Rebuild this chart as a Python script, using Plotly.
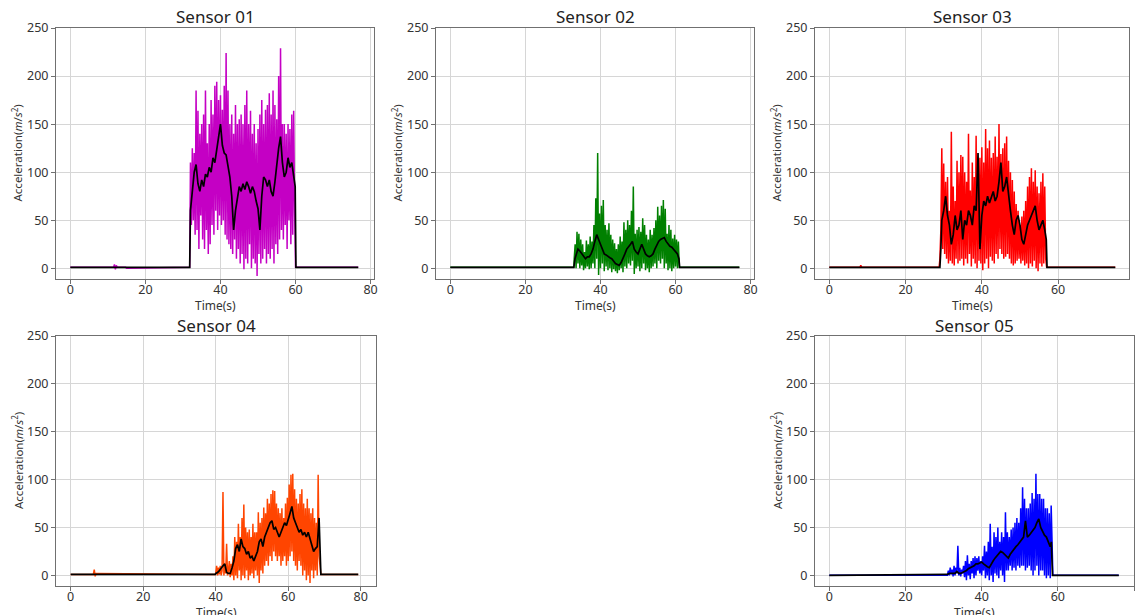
import plotly.graph_objects as go

# ---------------- data ----------------
STEP_RAW = 0.25   # sampling step of the raw signal lists (s)
STEP_AVG = 0.5    # sampling step of the moving-average lists (s)

# Sensor 01
s1_pre_t = [0, 11.5, 11.75, 12.0, 12.25, 12.5, 14.75, 15.0, 31.8]
s1_pre_v = [1, 1, 4, -1, 3, 1, 1, 0, 1]
s1_t0 = 32.0
s1_raw = [110, 45, 125, 50, 120, 35, 185, 40, 164, 20, 140, 55, 150, 30, 160, 20,
          185, 40, 130, 15, 150, 25, 175, 45, 160, 35, 190, 60, 194, 40, 175, 55,
          180, 45, 165, 50, 190, 35, 224, 30, 185, 25, 150, 20, 160, 15, 140, 30,
          170, 10, 150, 20, 155, 5, 160, 15, 150, -1, 170, 10, 185, 5, 150, 25,
          164, 0, 140, 10, 150, 5, 130, -8, 145, 15, 160, 5, 175, 10, 150, 20,
          165, 5, 170, 15, 182, 10, 160, 20, 185, 5, 170, 25, 155, 15, 200, 30,
          229, 40, 150, 30, 150, 45, 140, 20, 150, 50, 145, 25, 160, 35, 164, 60]
s1_post_t = [60.0, 76.7]
s1_post_v = [1, 1]
s1_avg_t0 = 32.0
s1_avg = [60, 85, 100, 108, 88, 80, 92, 85, 98, 95, 105, 100, 115, 110, 125, 140,
          150, 128, 120, 118, 108, 95, 75, 40, 60, 75, 85, 80, 88, 82, 90, 85,
          78, 85, 80, 70, 62, 40, 75, 95, 92, 85, 92, 80, 75, 90, 110, 125,
          137, 110, 95, 100, 115, 105, 110, 95]
s1_avg_pre_t, s1_avg_pre_v = [0, 31.8], [1, 1]
s1_avg_post_t, s1_avg_post_v = [59.9, 60.1, 76.7], [85, 1, 1]

# Sensor 02
s2_pre_t = [0, 32.9]
s2_pre_v = [1, 1]
s2_t0 = 33.0
s2_raw = [10, 25, 0, 38, 5, 36, 0, 30, 3, 25, -2, 17, 0, 29, 2, 25,
          -1, 33, 0, 28, 5, 45, 0, 73, 10, 120, -7, 57, 0, 65, 5, 71,
          -3, 45, 2, 40, -2, 47, 0, 35, -4, 30, -1, 26, -3, 20, -5, 25,
          -2, 33, 0, 28, -4, 48, 2, 40, 0, 50, 5, 45, 3, 60, 8, 85,
          -6, 36, 0, 40, 2, 43, -3, 38, 0, 52, 5, 45, -2, 35, 0, 30,
          -4, 40, 0, 35, 2, 42, 5, 50, 0, 64, 8, 55, 5, 65, 10, 71,
          0, 62, 5, 36, -2, 45, 0, 40, -3, 31, 0, 35, 2, 30, 0, 28]
s2_post_t = [61.0, 77.0]
s2_post_v = [1, 1]
s2_avg_t0 = 33.5
s2_avg = [15, 20, 18, 15, 12, 10, 12, 12, 15, 20, 28, 35, 30, 25, 20, 15,
          14, 12, 11, 10, 7, 5, 4, 3, 6, 10, 15, 20, 22, 25, 28, 20,
          17, 15, 20, 25, 20, 15, 13, 12, 13, 15, 20, 25, 28, 30, 31, 32,
          28, 25, 23, 22, 20, 18, 15]
s2_avg_pre_t, s2_avg_pre_v = [0, 32.9, 33.2], [1, 1, 10]
s2_avg_post_t, s2_avg_post_v = [60.9, 61.1, 77.0], [10, 1, 1]

# Sensor 03
s3_pre_t = [0, 8.0, 8.25, 8.5, 28.8]
s3_pre_v = [1, 1, 3, 1, 1]
s3_t0 = 29.0
s3_raw = [10, 40, 125, 20, 109, 15, 90, 10, 95, 5, 60, 8, 142, 5, 85, 3,
          70, 10, 112, 5, 100, 8, 118, 10, 116, 3, 100, 10, 90, 5, 140, 15,
          81, 2, 110, 10, 95, 5, 138, 0, 106, 8, 115, 5, 126, -2, 110, 5,
          145, 10, 125, 0, 133, 12, 115, 8, 120, 5, 137, 15, 116, 10, 150, 20,
          119, 15, 125, 10, 130, 12, 137, 15, 112, 10, 100, 5, 92, 3, 80, 5,
          67, 8, 60, 10, 45, 5, 54, 8, 60, 3, 70, 5, 85, 0, 95, 5,
          104, 2, 90, 8, 102, 0, 85, -3, 78, 5, 90, 2, 99, 5, 85, 10]
s3_post_t = [57.0, 75.0]
s3_post_v = [1, 1]
s3_avg_t0 = 29.5
s3_avg = [50, 60, 75, 55, 45, 25, 35, 55, 40, 45, 60, 30, 50, 45, 60, 55,
          45, 65, 60, 120, 20, 55, 70, 65, 75, 68, 75, 80, 70, 75, 90, 110,
          80, 85, 95, 75, 60, 45, 35, 50, 55, 45, 30, 25, 35, 45, 50, 55,
          62, 65, 50, 40, 45, 50, 40]
s3_avg_pre_t, s3_avg_pre_v = [0, 29.0, 29.25], [1, 1, 20]
s3_avg_post_t, s3_avg_post_v = [56.9, 57.1, 75.0], [30, 1, 1]

# Sensor 04
s4_pre_t = [0, 6.25, 6.5, 6.75, 7.0, 39.9]
s4_pre_v = [1, 1, 6, -1, 2, 1]
s4_t0 = 40.0
s4_raw = [2, 10, 0, 8, 1, 10, 0, 5, 87, 0, 12, 2, 33, 0, 5, 15,
          -2, 12, 0, 20, -5, 40, 0, 35, -3, 54, 5, 40, -5, 60, 0, 74,
          -3, 50, 5, 45, -5, 48, 0, 40, 2, 54, -3, 45, 5, 45, 0, 66,
          -8, 55, 5, 60, 2, 71, 10, 65, 15, 80, 10, 75, 20, 85, 15, 89,
          25, 88, 20, 75, 15, 70, 20, 65, 10, 70, 15, 60, 20, 75, 10, 81,
          15, 95, 20, 105, 25, 106, 15, 90, 10, 80, 5, 75, 15, 85, 10, 90,
          0, 75, 5, 70, -5, 80, 0, 70, -8, 65, 5, 70, -3, 60, 5, 55,
          0, 105, 20, 10]
s4_post_t = [69.0, 79.3]
s4_post_v = [1, 1]
s4_avg_t0 = 40.0
s4_avg = [2, 3, 5, 8, 10, 12, 3, 2, 2, 8, 15, 28, 32, 25, 38, 30,
          28, 22, 25, 18, 20, 15, 20, 25, 35, 38, 30, 40, 45, 50, 55, 57,
          48, 50, 45, 40, 45, 50, 55, 52, 60, 65, 72, 60, 55, 50, 45, 48,
          42, 45, 40, 45, 38, 30, 25, 28, 30, 60]
s4_avg_pre_t, s4_avg_pre_v = [0, 39.9], [1, 1]
s4_avg_post_t, s4_avg_post_v = [68.8, 69.0, 79.3], [20, 1, 1]

# Sensor 05
s5_pre_t = [0, 30.9]
s5_pre_v = [0, 0]
s5_t0 = 31.0
s5_raw = [0, 5, 0, 8, 1, 6, -1, 10, 0, 8, 2, 31, 0, 8, -1, 6,
          2, 10, -2, 15, -5, 21, 0, 12, -4, 15, 2, 18, -3, 20, 0, 18,
          5, 20, 2, 15, 0, 20, 5, 31, -3, 25, 0, 35, -5, 54, 0, 30,
          -7, 45, 2, 40, 0, 50, -3, 35, 5, 45, 0, 40, -7, 66, 5, 45,
          5, 40, 10, 48, 5, 50, 8, 55, 5, 60, 10, 55, 8, 70, 10, 92,
          10, 80, 5, 70, 8, 70, 10, 75, 5, 86, 0, 80, 5, 106, 10, 85,
          0, 85, 5, 80, 5, 80, 0, 70, -3, 70, 0, 65, -3, 73, 10]
s5_post_t = [58.7, 76.0]
s5_post_v = [0, 0]
s5_avg_t0 = 31.0
s5_avg = [1, 2, 2, 2, 2, 4, 2, 2, 3, 4, 5, 7, 8, 9, 10, 12,
          12, 13, 14, 12, 10, 9, 8, 12, 15, 18, 20, 23, 25, 24, 22, 20,
          18, 22, 25, 28, 30, 32, 35, 38, 40, 57, 40, 42, 45, 48, 50, 55,
          59, 50, 45, 42, 40, 35, 30]
s5_avg_pre_t, s5_avg_pre_v = [0, 31.0], [0, 1]
s5_avg_post_t, s5_avg_post_v = [58.3, 58.6, 76.0], [35, 0, 0]

titles = ["Sensor 01", "Sensor 02", "Sensor 03", "Sensor 04", "Sensor 05"]
colors = ["#c400c4", "#008000", "#ff0000", "#ff4500", "#0000ff"]
x_ticks = [0, 20, 40, 60, 80]
y_ticks = [0, 50, 100, 150, 200, 250]

sensors = [
    (s1_pre_t, s1_pre_v, s1_t0, s1_raw, s1_post_t, s1_post_v,
     s1_avg_pre_t, s1_avg_pre_v, s1_avg_t0, s1_avg, s1_avg_post_t, s1_avg_post_v),
    (s2_pre_t, s2_pre_v, s2_t0, s2_raw, s2_post_t, s2_post_v,
     s2_avg_pre_t, s2_avg_pre_v, s2_avg_t0, s2_avg, s2_avg_post_t, s2_avg_post_v),
    (s3_pre_t, s3_pre_v, s3_t0, s3_raw, s3_post_t, s3_post_v,
     s3_avg_pre_t, s3_avg_pre_v, s3_avg_t0, s3_avg, s3_avg_post_t, s3_avg_post_v),
    (s4_pre_t, s4_pre_v, s4_t0, s4_raw, s4_post_t, s4_post_v,
     s4_avg_pre_t, s4_avg_pre_v, s4_avg_t0, s4_avg, s4_avg_post_t, s4_avg_post_v),
    (s5_pre_t, s5_pre_v, s5_t0, s5_raw, s5_post_t, s5_post_v,
     s5_avg_pre_t, s5_avg_pre_v, s5_avg_t0, s5_avg, s5_avg_post_t, s5_avg_post_v),
]

# ---------------- layout geometry (pixels in a 1141x615 canvas) ----------------
W, H = 1141, 615
boxes = [
    (56, 374, 28, 279, [-3.82, 80.9]),
    (436, 754, 28, 279, [-3.82, 80.9]),
    (815, 1129, 28, 279, [-3.76, 78.6]),
    (56, 376, 336, 586, [-4.05, 84.2]),
    (815, 1134, 336, 586, [-3.76, 80.0]),
]
Y_RANGE = [-11.1, 250]

FONT = "Noto Sans, DejaVu Sans, sans-serif"
fig = go.Figure()
annotations = []

for i, (box, data) in enumerate(zip(boxes, sensors)):
    (pre_t, pre_v, t0, raw, post_t, post_v,
     apre_t, apre_v, at0, avg, apost_t, apost_v) = data
    raw_t = [t0 + k * STEP_RAW for k in range(len(raw))]
    avg_t = [at0 + k * STEP_AVG for k in range(len(avg))]
    xs = list(pre_t) + raw_t + list(post_t)
    ys = list(pre_v) + list(raw) + list(post_v)
    axs = list(apre_t) + avg_t + list(apost_t)
    ays = list(apre_v) + list(avg) + list(apost_v)
    n = "" if i == 0 else str(i + 1)
    fig.add_trace(go.Scatter(x=xs, y=ys, mode="lines", line=dict(color=colors[i], width=1.5),
                             xaxis="x" + n, yaxis="y" + n, showlegend=False, hoverinfo="skip"))
    fig.add_trace(go.Scatter(x=axs, y=ays, mode="lines", line=dict(color="#000000", width=1.7),
                             xaxis="x" + n, yaxis="y" + n, showlegend=False, hoverinfo="skip"))
    l, r, t, b, xr = box
    xd = [l / W, r / W]
    yd = [1 - b / H, 1 - t / H]
    axcommon = dict(showline=True, linecolor="#707070", linewidth=1, mirror=True,
                    showgrid=True, gridcolor="#d6d6d6", gridwidth=1, zeroline=False,
                    ticks="outside", ticklen=4, tickcolor="#707070", automargin=False,
                    tickfont=dict(family=FONT, size=12.5, color="#333333"))
    fig.update_layout(**{
        "xaxis" + n: dict(domain=xd, range=xr, tickvals=x_ticks, anchor="y" + n,
                          ticklabelstandoff=-5, **axcommon),
        "yaxis" + n: dict(domain=yd, range=Y_RANGE, tickvals=y_ticks, anchor="x" + n, **axcommon),
    })
    cx = (l + r) / 2 / W
    annotations.append(dict(text=titles[i], x=cx, y=1 - (t - 11) / H, xref="paper", yref="paper",
                            xanchor="center", yanchor="middle", showarrow=False,
                            font=dict(family=FONT, size=17, color="#222222")))
    annotations.append(dict(text="Time(s)", x=cx, y=1 - (b + 26.5) / H, xref="paper", yref="paper",
                            xanchor="center", yanchor="middle", showarrow=False,
                            font=dict(family=FONT, size=12, color="#333333")))
    annotations.append(dict(text="Acceleration(<i>m</i>/<i>s</i><sup>2</sup>)",
                            x=(l - 39) / W, y=1 - ((t + b) / 2) / H, xref="paper", yref="paper",
                            xanchor="center", yanchor="middle", textangle=-90, showarrow=False,
                            font=dict(family=FONT, size=11.5, color="#333333")))

fig.update_layout(width=W, height=H, autosize=False,
                  margin=dict(l=0, r=0, t=0, b=0, autoexpand=False),
                  paper_bgcolor="white", plot_bgcolor="white",
                  annotations=annotations)

PIN = ("var gd=document.getElementById('{plot_id}');"
       "document.documentElement.style.overflow='hidden';"
       "document.body.style.margin='0';document.body.style.overflow='hidden';"
       "gd.style.position='fixed';gd.style.left='0px';gd.style.top='0px';")
fig.write_html("out.html", config={"displayModeBar": False}, post_script=PIN)
